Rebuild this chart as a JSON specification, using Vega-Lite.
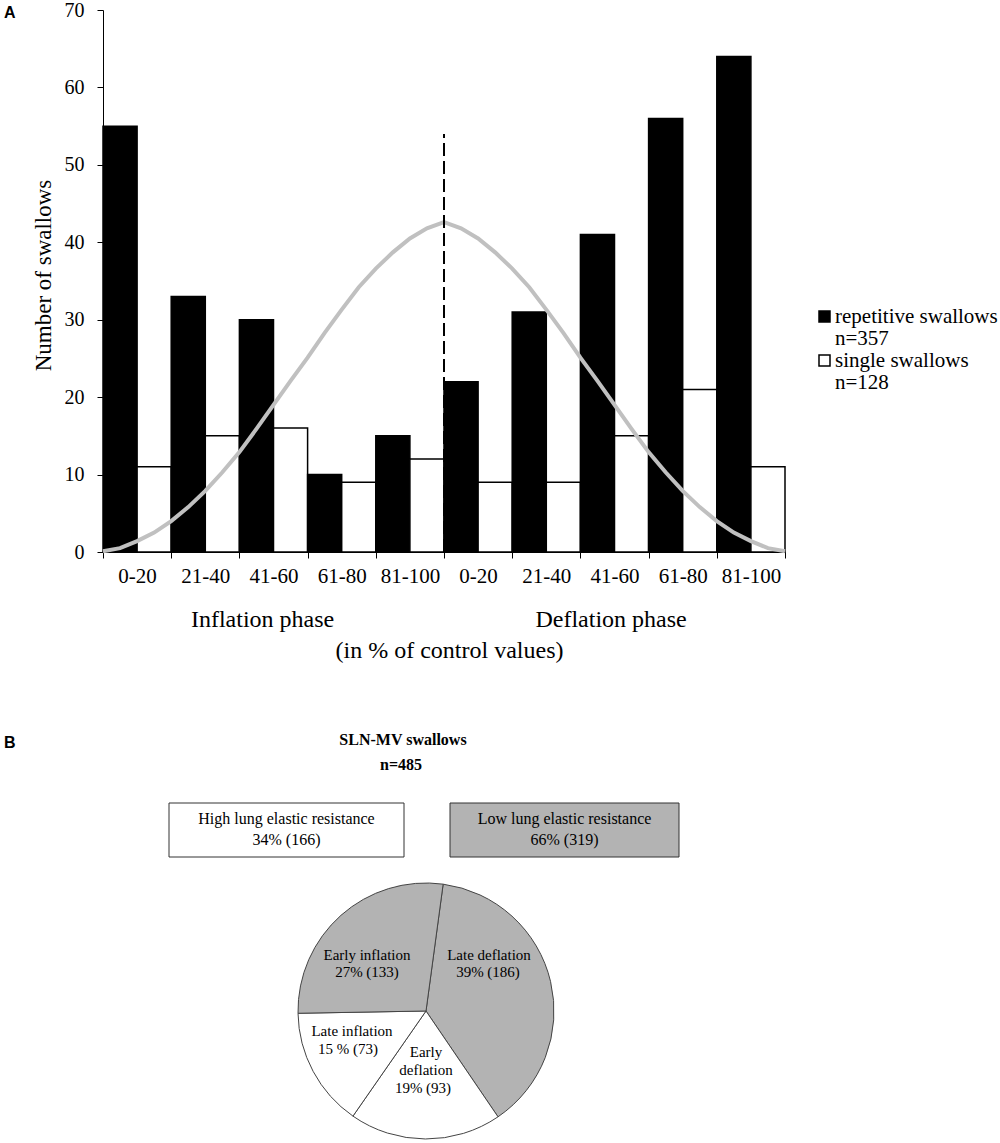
{
  "$schema": "https://vega.github.io/schema/vega-lite/v6.json",
  "padding": {"left": 3, "top": 0, "right": 0, "bottom": 0},
  "background": "white",
  "config": {
    "view": {"stroke": null},
    "font": "Liberation Serif",
    "axis": {"labelFont": "Liberation Serif", "titleFont": "Liberation Serif"},
    "legend": {"labelFont": "Liberation Serif", "titleFont": "Liberation Serif"},
    "concat": {"spacing": 70}
  },
  "resolve": {"scale": {"color": "independent"}, "legend": {"color": "independent"}},
  "datasets": {
    "bars": [
      {"cat": "I:0-20", "type": "repetitive", "v": 55},
      {"cat": "I:0-20", "type": "single", "v": 11},
      {"cat": "I:21-40", "type": "repetitive", "v": 33},
      {"cat": "I:21-40", "type": "single", "v": 15},
      {"cat": "I:41-60", "type": "repetitive", "v": 30},
      {"cat": "I:41-60", "type": "single", "v": 16},
      {"cat": "I:61-80", "type": "repetitive", "v": 10},
      {"cat": "I:61-80", "type": "single", "v": 9},
      {"cat": "I:81-100", "type": "repetitive", "v": 15},
      {"cat": "I:81-100", "type": "single", "v": 12},
      {"cat": "D:0-20", "type": "repetitive", "v": 22},
      {"cat": "D:0-20", "type": "single", "v": 9},
      {"cat": "D:21-40", "type": "repetitive", "v": 31},
      {"cat": "D:21-40", "type": "single", "v": 9},
      {"cat": "D:41-60", "type": "repetitive", "v": 41},
      {"cat": "D:41-60", "type": "single", "v": 15},
      {"cat": "D:61-80", "type": "repetitive", "v": 56},
      {"cat": "D:61-80", "type": "single", "v": 21},
      {"cat": "D:81-100", "type": "repetitive", "v": 64},
      {"cat": "D:81-100", "type": "single", "v": 11}
    ],
    "curve": [
      {"x": 0, "v": 0.1}, {"x": 0.25, "v": 0.5}, {"x": 0.5, "v": 1.4}, {"x": 0.75, "v": 2.5},
      {"x": 1, "v": 4.0}, {"x": 1.25, "v": 5.8}, {"x": 1.5, "v": 7.9}, {"x": 1.75, "v": 10.3},
      {"x": 2, "v": 12.9}, {"x": 2.25, "v": 15.9}, {"x": 2.5, "v": 19.0}, {"x": 2.75, "v": 22.1},
      {"x": 3, "v": 25.1}, {"x": 3.25, "v": 28.3}, {"x": 3.5, "v": 31.3}, {"x": 3.75, "v": 34.2},
      {"x": 4, "v": 36.6}, {"x": 4.25, "v": 38.7}, {"x": 4.5, "v": 40.5}, {"x": 4.75, "v": 41.8},
      {"x": 5, "v": 42.6},
      {"x": 5.25, "v": 41.8}, {"x": 5.5, "v": 40.5}, {"x": 5.75, "v": 38.7}, {"x": 6, "v": 36.6},
      {"x": 6.25, "v": 34.2}, {"x": 6.5, "v": 31.3}, {"x": 6.75, "v": 28.3}, {"x": 7, "v": 25.1},
      {"x": 7.25, "v": 22.1}, {"x": 7.5, "v": 19.0}, {"x": 7.75, "v": 15.9}, {"x": 8, "v": 12.9},
      {"x": 8.25, "v": 10.3}, {"x": 8.5, "v": 7.9}, {"x": 8.75, "v": 5.8}, {"x": 9, "v": 4.0},
      {"x": 9.25, "v": 2.5}, {"x": 9.5, "v": 1.4}, {"x": 9.75, "v": 0.5}, {"x": 10, "v": 0.1}
    ],
    "divider": [{"x": 5, "v": 0, "v2": 54}],
    "phaseText": [
      {"x": 2.34, "v": -8.8, "t": "Inflation phase"},
      {"x": 7.45, "v": -8.8, "t": "Deflation phase"}
    ],
    "panelA": [{"x": -1.452, "v": 69.6, "t": "A"}],
    "panelB": [{"px": 3, "py": 744.5, "t": "B"}],
    "titleB": [
      {"px": 402, "py": 742, "t": "SLN-MV swallows"},
      {"px": 400, "py": 767, "t": "n=485"}
    ],
    "boxes": [
      {"px": 168, "px2": 403, "py": 805, "py2": 859, "shade": "white"},
      {"px": 449, "px2": 678, "py": 805, "py2": 859, "shade": "gray"}
    ],
    "boxText": [
      {"px": 285.5, "py": 821, "t": "High lung elastic resistance"},
      {"px": 285.5, "py": 842, "t": "34% (166)"},
      {"px": 563.5, "py": 821, "t": "Low lung elastic resistance"},
      {"px": 563.5, "py": 842, "t": "66% (319)"}
    ],
    "pie": [
      {"slice": "Late deflation", "count": 186, "ord": 1, "shade": "gray"},
      {"slice": "Early deflation", "count": 93, "ord": 2, "shade": "white"},
      {"slice": "Late inflation", "count": 73, "ord": 3, "shade": "white"},
      {"slice": "Early inflation", "count": 133, "ord": 4, "shade": "gray"}
    ],
    "pieText": [
      {"px": 366, "py": 957, "t": "Early inflation"},
      {"px": 366, "py": 974, "t": "27% (133)"},
      {"px": 488, "py": 957, "t": "Late deflation"},
      {"px": 487, "py": 974, "t": "39% (186)"},
      {"px": 351, "py": 1033, "t": "Late inflation"},
      {"px": 347, "py": 1051, "t": "15 % (73)"},
      {"px": 425, "py": 1054, "t": "Early"},
      {"px": 425, "py": 1072, "t": "deflation"},
      {"px": 422, "py": 1090, "t": "19% (93)"}
    ]
  },
  "vconcat": [
    {
      "width": 682,
      "height": 542,
      "encoding": {
        "y": {
          "field": "v",
          "type": "quantitative",
          "scale": {"domain": [0, 70], "nice": false, "zero": false},
          "axis": {
            "values": [0, 10, 20, 30, 40, 50, 60, 70],
            "title": "Number of swallows",
            "titleFont": "Liberation Serif",
            "titleFontSize": 23,
            "titleFontWeight": "normal",
            "titleColor": "black",
            "titlePadding": 9,
            "titleY": 265,
            "labelFont": "Liberation Serif",
            "labelFontSize": 20,
            "labelColor": "black",
            "labelPadding": 13,
            "tickSize": 6,
            "tickColor": "black",
            "domainColor": "black",
            "grid": false,
            "encode": {"labels": {"update": {"font": {"value": "Liberation Serif"}}}}
          }
        }
      },
      "layer": [
        {
          "data": {"name": "bars"},
          "mark": {"type": "bar", "stroke": "black", "strokeWidth": 1.5},
          "encoding": {
            "x": {
              "field": "cat",
              "type": "nominal",
              "sort": null,
              "scale": {
                "type": "band",
                "paddingInner": 0,
                "paddingOuter": 0,
                "domain": ["I:0-20", "I:21-40", "I:41-60", "I:61-80", "I:81-100", "D:0-20", "D:21-40", "D:41-60", "D:61-80", "D:81-100"]
              },
              "axis": {
                "labelExpr": "slice(datum.label, 2)",
                "labelAngle": 0,
                "labelFont": "Liberation Serif",
                "labelFontSize": 21,
                "labelColor": "black",
                "labelPadding": 7,
                "tickBand": "extent",
                "tickSize": 6,
                "tickColor": "black",
                "domainColor": "black",
                "title": "(in % of control values)",
                "titleFont": "Liberation Serif",
                "titleFontSize": 24,
                "titleFontWeight": "normal",
                "titleColor": "black",
                "titlePadding": 52,
                "titleX": 346,
                "encode": {"labels": {"update": {"font": {"value": "Liberation Serif"}}}}
              }
            },
            "xOffset": {
              "field": "type",
              "type": "nominal",
              "scale": {"domain": ["repetitive", "single"], "paddingInner": 0, "paddingOuter": 0}
            },
            "color": {
              "field": "type",
              "type": "nominal",
              "scale": {"domain": ["repetitive", "single"], "range": ["#000000", "#ffffff"]},
              "legend": {
                "orient": "none",
                "legendX": 711,
                "legendY": 296,
                "title": null,
                "symbolType": "square",
                "symbolSize": 121,
                "symbolStrokeColor": "black",
                "symbolStrokeWidth": 1.5,
                "labelFont": "Liberation Serif",
                "labelFontSize": 21,
                "labelColor": "black",
                "labelOffset": 0,
                "labelLimit": 0,
                "rowPadding": 0,
                "labelExpr": "datum.label == 'repetitive' ? ['repetitive swallows', 'n=357'] : ['single swallows', 'n=128']",
                "encode": {"labels": {"update": {"lineHeight": {"value": 22}, "font": {"value": "Liberation Serif"}}}}
              }
            }
          }
        },
        {
          "layer": [
            {
              "data": {"name": "curve"},
              "mark": {"type": "line", "color": "#c0c0c0", "strokeWidth": 4, "interpolate": "linear"},
              "encoding": {
                "x": {"field": "x", "type": "quantitative", "scale": {"domain": [0, 10], "nice": false, "zero": false}, "axis": null}
              }
            },
            {
              "data": {"name": "divider"},
              "mark": {"type": "rule", "color": "black", "strokeWidth": 2, "strokeDash": [13, 5]},
              "encoding": {
                "x": {"field": "x", "type": "quantitative", "scale": {"domain": [0, 10], "nice": false, "zero": false}, "axis": null},
                "y2": {"field": "v2"}
              }
            },
            {
              "data": {"name": "phaseText"},
              "mark": {"type": "text", "font": "Liberation Serif", "fontSize": 24, "color": "black", "align": "center", "baseline": "middle"},
              "encoding": {
                "x": {"field": "x", "type": "quantitative", "scale": {"domain": [0, 10], "nice": false, "zero": false}, "axis": null},
                "text": {"field": "t"}
              }
            },
            {
              "data": {"name": "panelA"},
              "mark": {"type": "text", "font": "Liberation Sans", "fontWeight": "bold", "fontSize": 16, "color": "black", "align": "left", "baseline": "middle"},
              "encoding": {
                "x": {"field": "x", "type": "quantitative", "scale": {"domain": [0, 10], "nice": false, "zero": false}, "axis": null},
                "text": {"field": "t"}
              }
            }
          ]
        }
      ],
      "resolve": {"scale": {"x": "independent"}, "axis": {"x": "independent"}}
    },
    {
      "width": 682,
      "height": 409,
      "layer": [
        {
          "data": {"name": "boxes"},
          "mark": {"type": "rect", "stroke": "#333333", "strokeWidth": 1},
          "encoding": {
            "x": {"field": "px", "type": "quantitative", "scale": {"domain": [102, 784], "nice": false, "zero": false}, "axis": null},
            "x2": {"field": "px2"},
            "y": {"field": "py", "type": "quantitative", "scale": {"domain": [734, 1143], "nice": false, "zero": false, "reverse": true}, "axis": null},
            "y2": {"field": "py2"},
            "color": {"field": "shade", "type": "nominal", "scale": {"domain": ["gray", "white"], "range": ["#b3b3b3", "#ffffff"]}, "legend": null}
          }
        },
        {
          "data": {"name": "pie"},
          "mark": {"type": "arc", "radius": 128, "stroke": "#444444", "strokeWidth": 1},
          "encoding": {
            "x": {"datum": 425, "type": "quantitative", "scale": {"domain": [102, 784], "nice": false, "zero": false}, "axis": null},
            "y": {"datum": 1013, "type": "quantitative", "scale": {"domain": [734, 1143], "nice": false, "zero": false, "reverse": true}, "axis": null},
            "theta": {"field": "count", "type": "quantitative", "stack": true, "scale": {"range": [0.1344, 6.4176]}},
            "order": {"field": "ord", "type": "quantitative", "sort": "ascending"},
            "color": {"field": "shade", "type": "nominal", "scale": {"domain": ["gray", "white"], "range": ["#b3b3b3", "#ffffff"]}, "legend": null}
          }
        },
        {
          "data": {"name": "boxText"},
          "mark": {"type": "text", "font": "Liberation Serif", "fontSize": 16, "color": "black", "align": "center", "baseline": "middle"},
          "encoding": {
            "x": {"field": "px", "type": "quantitative", "scale": {"domain": [102, 784], "nice": false, "zero": false}, "axis": null},
            "y": {"field": "py", "type": "quantitative", "scale": {"domain": [734, 1143], "nice": false, "zero": false, "reverse": true}, "axis": null},
            "text": {"field": "t"}
          }
        },
        {
          "data": {"name": "pieText"},
          "mark": {"type": "text", "font": "Liberation Serif", "fontSize": 15, "color": "black", "align": "center", "baseline": "middle"},
          "encoding": {
            "x": {"field": "px", "type": "quantitative", "scale": {"domain": [102, 784], "nice": false, "zero": false}, "axis": null},
            "y": {"field": "py", "type": "quantitative", "scale": {"domain": [734, 1143], "nice": false, "zero": false, "reverse": true}, "axis": null},
            "text": {"field": "t"}
          }
        },
        {
          "data": {"name": "titleB"},
          "mark": {"type": "text", "font": "Liberation Serif", "fontWeight": "bold", "fontSize": 16, "color": "black", "align": "center", "baseline": "middle"},
          "encoding": {
            "x": {"field": "px", "type": "quantitative", "scale": {"domain": [102, 784], "nice": false, "zero": false}, "axis": null},
            "y": {"field": "py", "type": "quantitative", "scale": {"domain": [734, 1143], "nice": false, "zero": false, "reverse": true}, "axis": null},
            "text": {"field": "t"}
          }
        },
        {
          "data": {"name": "panelB"},
          "mark": {"type": "text", "font": "Liberation Sans", "fontWeight": "bold", "fontSize": 16, "color": "black", "align": "left", "baseline": "middle"},
          "encoding": {
            "x": {"field": "px", "type": "quantitative", "scale": {"domain": [102, 784], "nice": false, "zero": false}, "axis": null},
            "y": {"field": "py", "type": "quantitative", "scale": {"domain": [734, 1143], "nice": false, "zero": false, "reverse": true}, "axis": null},
            "text": {"field": "t"}
          }
        }
      ]
    }
  ]
}
